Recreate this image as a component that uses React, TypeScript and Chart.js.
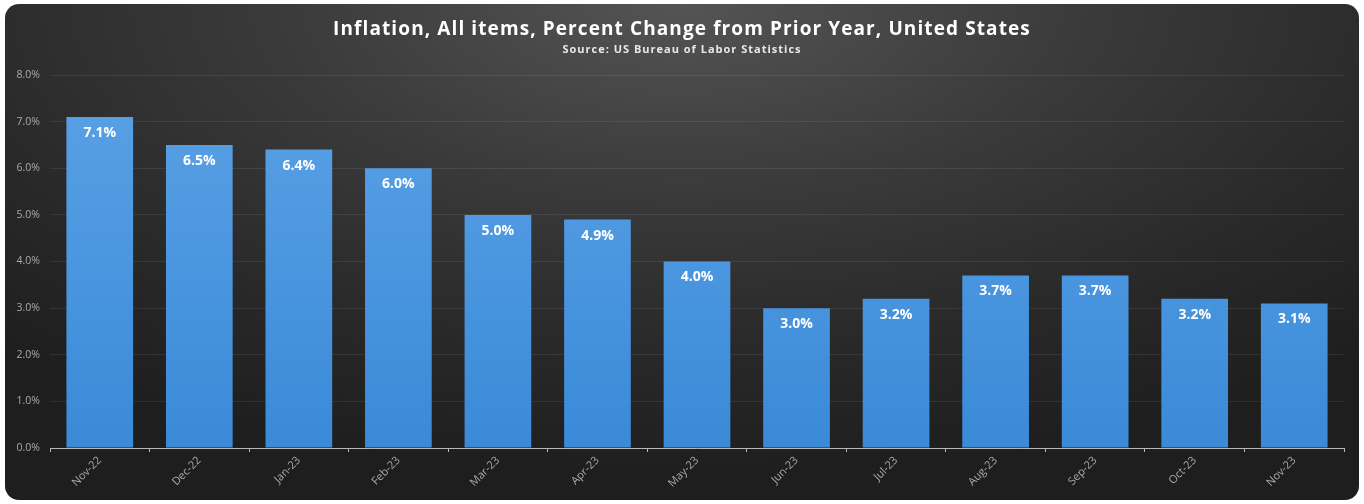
import React, { useEffect, useRef } from "react";
import { Chart, registerables } from "chart.js";

Chart.register(...registerables);

const TITLE = "Inflation, All items, Percent Change from Prior Year, United States";
const SUBTITLE = "Source: US Bureau of Labor Statistics";
const MONTHS = ["Nov-22", "Dec-22", "Jan-23", "Feb-23", "Mar-23", "Apr-23", "May-23", "Jun-23", "Jul-23", "Aug-23", "Sep-23", "Oct-23", "Nov-23"];
const INFLATION = [7.1, 6.5, 6.4, 6.0, 5.0, 4.9, 4.0, 3.0, 3.2, 3.7, 3.7, 3.2, 3.1];
const Y_MIN = 0;
const Y_MAX = 8;
const Y_STEP = 1;

const FONT = "'Open Sans', 'DejaVu Sans', sans-serif";

const titlePlugin = {
  id: "customTitle",
  afterDraw(chart: any) {
    const ctx = chart.ctx;
    const cx = chart.width / 2;
    ctx.save();
    ctx.textAlign = "center";
    ctx.textBaseline = "middle";
    ctx.fillStyle = "#ffffff";
    (ctx as any).letterSpacing = "1.1px";
    ctx.font = `bold 19px ${FONT}`;
    ctx.fillText(TITLE, cx, 26);
    (ctx as any).letterSpacing = "1px";
    ctx.font = `bold 11px ${FONT}`;
    ctx.fillStyle = "#e8e8e8";
    ctx.fillText(SUBTITLE, cx, 46);
    ctx.restore();
  },
};

const labelPlugin = {
  id: "barLabels",
  afterDatasetsDraw(chart: any) {
    const ctx = chart.ctx;
    const meta = chart.getDatasetMeta(0);
    const data = chart.data.datasets[0].data as number[];
    ctx.save();
    ctx.textAlign = "center";
    ctx.textBaseline = "middle";
    ctx.fillStyle = "#ffffff";
    ctx.font = `bold 14px ${FONT}`;
    meta.data.forEach((el: any, i: number) => {
      ctx.fillText(data[i].toFixed(1) + "%", el.x, el.y + 16);
    });
    ctx.restore();
  },
};

export default function App() {
  const ref = useRef<HTMLCanvasElement>(null);
  useEffect(() => {
    if (!ref.current) return;
    const chart = new Chart(ref.current, {
      type: "bar",
      data: {
        labels: MONTHS,
        datasets: [
          {
            data: INFLATION,
            backgroundColor: (c: any) => {
              const area = c.chart.chartArea;
              if (!area) return "#4a94de";
              const g = c.chart.ctx.createLinearGradient(0, area.top, 0, area.bottom);
              g.addColorStop(0, "#5ba2e6");
              g.addColorStop(1, "#3a8ad8");
              return g;
            },
            borderWidth: 0,
            barPercentage: 0.67,
            categoryPercentage: 1,
          },
        ],
      },
      options: {
        animation: false,
        responsive: false,
        maintainAspectRatio: false,
        layout: { padding: { top: 71, left: 9, right: 15, bottom: 4 } },
        plugins: {
          legend: { display: false },
          tooltip: { enabled: false },
          title: { display: false },
        },
        scales: {
          x: {
            grid: { drawOnChartArea: false, drawTicks: true, tickLength: 4, tickColor: "#b8b8b8", offset: true },
            border: { display: true, color: "#b8b8b8", width: 1 },
            ticks: {
              color: "#aaaaaa",
              font: { family: FONT, size: 11 },
              minRotation: 45,
              maxRotation: 45,
              padding: 2,
            },
            afterFit: (s: any) => {
              s.height = 48;
            },
          },
          y: {
            min: Y_MIN,
            max: Y_MAX,
            grid: { color: "rgba(255,255,255,0.08)", drawTicks: false },
            border: { display: false },
            ticks: {
              stepSize: Y_STEP,
              color: "#aaaaaa",
              font: { family: FONT, size: 10.5 },
              padding: 10,
              callback: (v: any) => Number(v).toFixed(1) + "%",
            },
            afterFit: (s: any) => {
              s.width = 36;
            },
          },
        },
      },
      plugins: [titlePlugin, labelPlugin],
    } as any);
    return () => chart.destroy();
  }, []);

  return (
    <div style={{ position: "fixed", left: 0, top: 0, width: 1364, height: 504, background: "#ffffff" }}>
      <div
        style={{
          position: "absolute",
          left: 5,
          top: 4,
          width: 1354,
          height: 496,
          borderRadius: 14,
          overflow: "hidden",
          background:
            "radial-gradient(ellipse 75% 95% at 50% 0%, #545454 0%, #3a3a3a 40%, #282828 75%, #1e1e1e 100%)",
        }}
      >
        <canvas ref={ref} width={1354} height={496} style={{ display: "block" }} />
      </div>
    </div>
  );
}
